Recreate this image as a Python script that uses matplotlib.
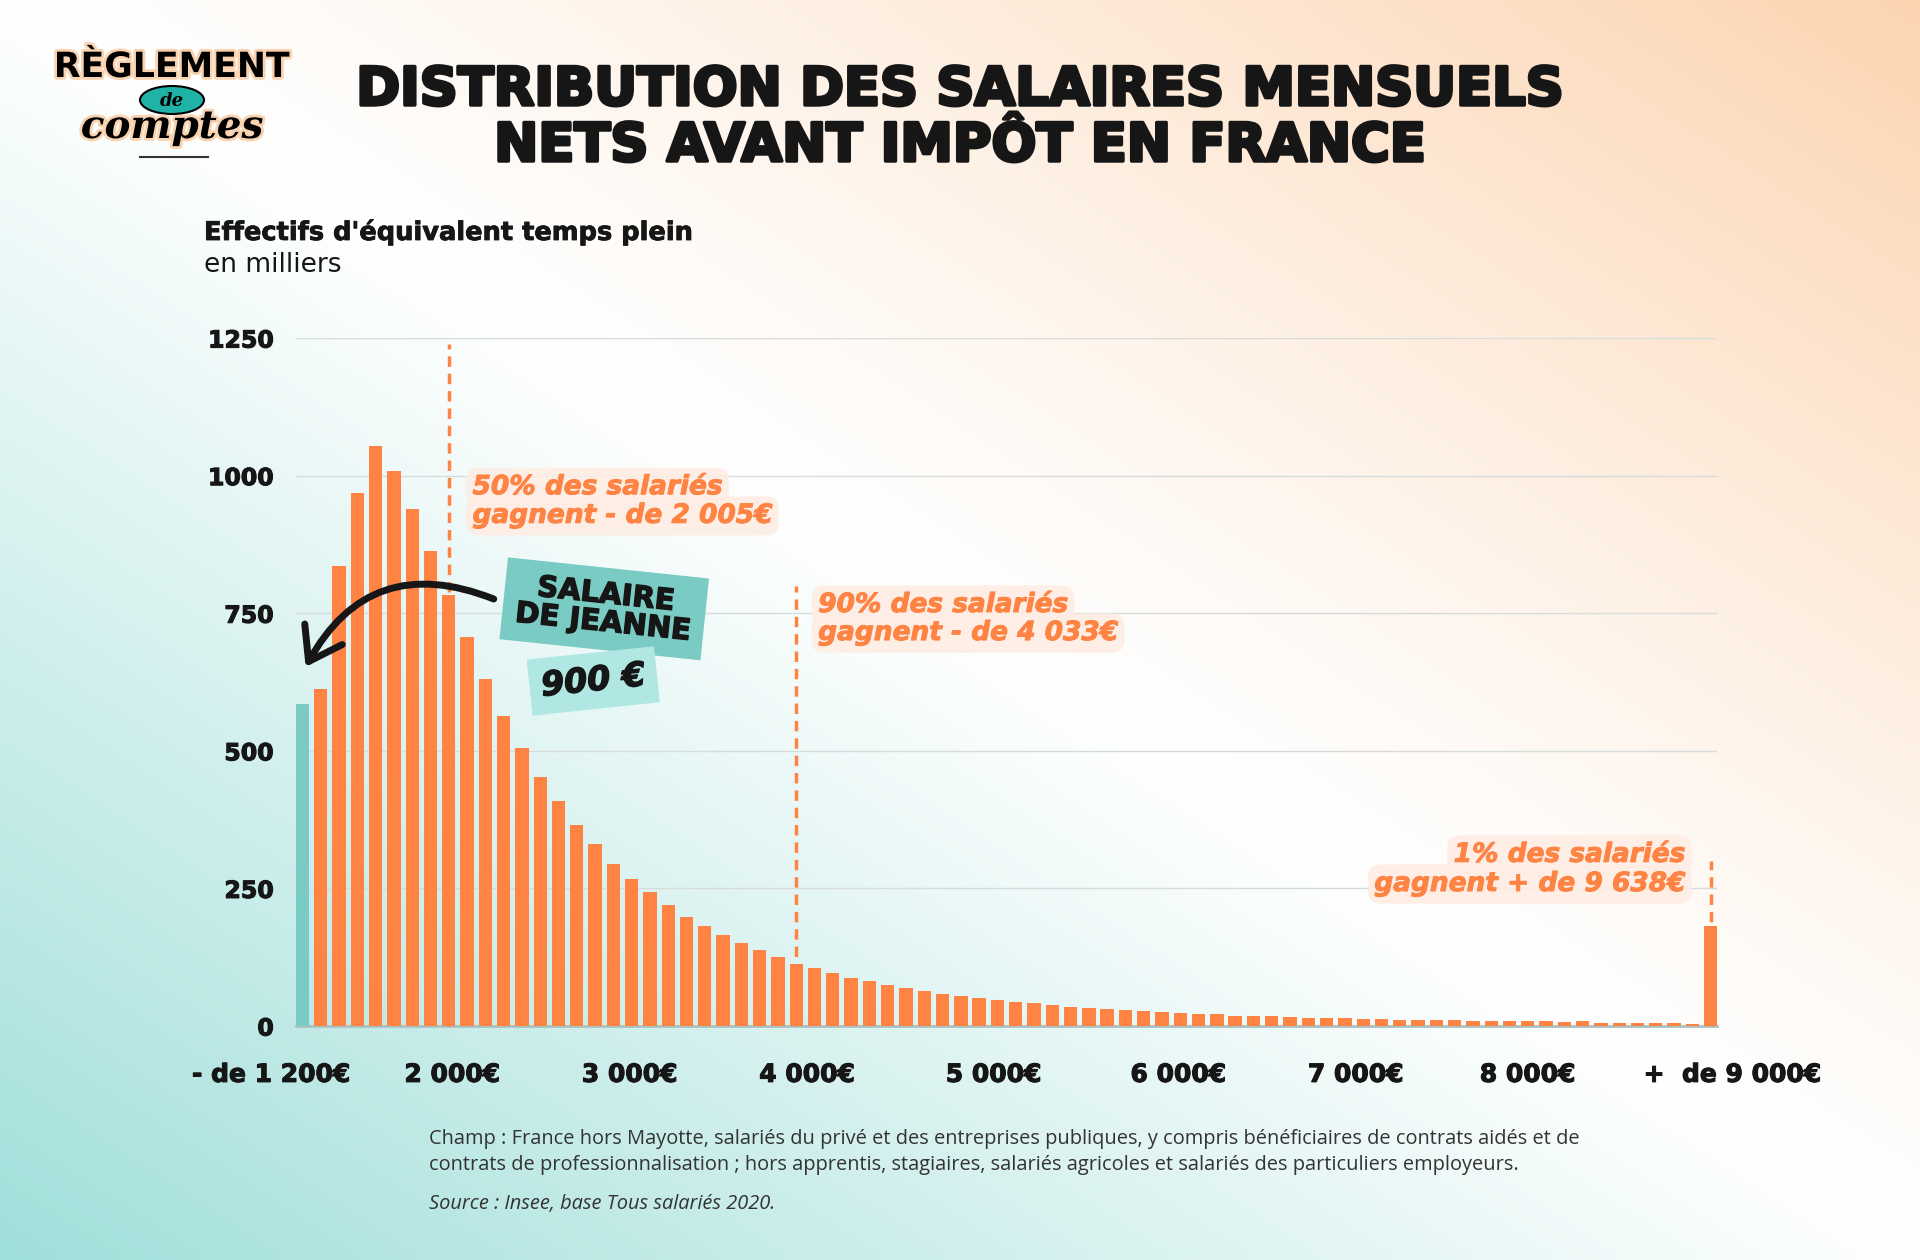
import numpy as np
import matplotlib.pyplot as plt
from matplotlib.patches import FancyArrowPatch, Ellipse
import matplotlib.patheffects as pe

# effectifs (milliers) par tranche de 100 EUR, 1ere barre = moins de 1200, derniere = plus de 9000
counts = [585, 613, 836, 969, 1053, 1008, 940, 863, 783, 706, 630, 563, 505, 453,
          408, 366, 330, 294, 267, 243, 220, 198, 181, 165, 150, 138, 125, 113,
          105, 96, 88, 82, 75, 69, 64, 59, 55, 51, 47, 44, 41, 38, 35, 33, 31, 29,
          27, 25, 24, 22, 21, 19, 18, 18, 16,
          15, 15, 14.5, 13, 12.5, 11.5, 11.5, 11, 11, 10, 10, 9, 9, 9, 8, 9, 6, 6,
          5.5, 5.5, 5.5, 4, 182]
jeanne_bar = 0

x_labels = ["- de 1 200€", "2 000€", "3 000€", "4 000€", "5 000€", "6 000€",
            "7 000€", "8 000€", "+  de 9 000€"]
x_label_pos = [-1.7, 8.2, 17.9, 27.6, 37.8, 47.9, 57.6, 67.0, 78.2]

y_ticks = [0, 250, 500, 750, 1000, 1250]

# percentiles: bar index, top of dashed line, label
pct_bars = [8, 27, 77]
pct_tops = [1240, 800, 300]
pct_text = [["50% des salariés", "gagnent - de 2 005€"],
            ["90% des salariés", "gagnent - de 4 033€"],
            ["1% des salariés", "gagnent + de 9 638€"]]

ORANGE = "#FF8444"
TEAL = "#79CBC3"
DARK = "#161616"


def heavy(color, w=1.2):
    return [pe.withStroke(linewidth=w, foreground=color)]


fig = plt.figure(figsize=(19.2, 12.6), dpi=100)

# background gradient
H, W = 252, 384
yy, xx = np.mgrid[0:H, 0:W]
t = xx / W - yy / H
white = np.array([1.0, 1.0, 1.0])
peach = np.array([252, 212, 176]) / 255
teal_bg = np.array([160, 223, 218]) / 255
pos = np.clip(t, 0, 1)[..., None] ** 1.2
neg = np.clip(-t, 0, 1)[..., None] ** 1.0
img = white * (1 - pos - neg) + peach * pos + teal_bg * neg
bg = fig.add_axes([0, 0, 1, 1])
bg.imshow(img, aspect="auto", extent=[0, 1, 0, 1], interpolation="bicubic")
bg.axis("off")

ax = fig.add_axes([0.1542, 0.1857, 0.7401, 0.546])
ax.patch.set_alpha(0)
idx = np.arange(len(counts))
colors = [TEAL if i == jeanne_bar else ORANGE for i in idx]
ax.bar(idx, counts, width=0.73, color=colors, zorder=3)
ax.set_xlim(-0.35, 77.35)
ax.set_ylim(0, 1250)
ax.set_yticks(y_ticks)
ax.set_yticklabels([str(v) for v in y_ticks], fontsize=17, fontweight="bold",
                   color=DARK, path_effects=heavy(DARK, 0.8))
ax.tick_params(axis="y", length=0, pad=16)
ax.set_xticks([])
for s in ["top", "right", "left"]:
    ax.spines[s].set_visible(False)
ax.spines["bottom"].set_color("#A9C2C2")
ax.spines["bottom"].set_linewidth(2)
ax.grid(axis="y", color="#D6DCDC", lw=1, zorder=0)

for lab, p in zip(x_labels, x_label_pos):
    ax.text(p, -0.071, lab, transform=ax.get_xaxis_transform(), ha="center",
            va="center", fontsize=18, fontweight="bold", color=DARK, clip_on=False,
            path_effects=heavy(DARK, 0.8))

# percentile lines + labels
box = dict(boxstyle="round,pad=0.25,rounding_size=0.5", fc="#FEEDE4", ec="none", alpha=0.9)
for b, top in zip(pct_bars, pct_tops):
    ax.plot([b, b], [0, top], ls=(0, (3, 2)), color=ORANGE, lw=2.5, zorder=4,
            clip_on=False)
lab_xy = [(9.3, 979, 927, "left"), (28.2, 765, 714, "left"), (75.6, 311, 258, "right")]
for (lx, y1, y2, ha), lines in zip(lab_xy, pct_text):
    for yy_, txt in zip([y1, y2], lines):
        ax.text(lx, yy_, txt, ha=ha, va="center", fontsize=19, fontweight="bold",
                style="italic", color=ORANGE, bbox=box, zorder=5,
                path_effects=heavy(ORANGE, 0.7))

# Jeanne
ax.text(16.5, 758, "SALAIRE\nDE JEANNE", ha="center", va="center", rotation=-6,
        fontsize=21, fontweight="bold", color=DARK, linespacing=1.0, zorder=6,
        path_effects=heavy(DARK, 1.0),
        bbox=dict(boxstyle="square,pad=0.45", fc=TEAL, ec="none"))
ax.text(15.9, 627, "900 €", ha="center", va="center", rotation=6,
        fontsize=24, fontweight="bold", style="italic", color=DARK, zorder=6,
        path_effects=heavy(DARK, 1.0),
        bbox=dict(boxstyle="square,pad=0.35", fc="#B1E7E3", ec="none"))
arr = FancyArrowPatch((10.6, 774), (0.1, 648), connectionstyle="arc3,rad=0.45",
                      arrowstyle="->,head_length=0.8,head_width=0.55",
                      mutation_scale=28, lw=5, color=DARK, zorder=7, clip_on=False)
ax.add_patch(arr)

# titles
fig.text(0.5, 1 - 90 / 1260, "DISTRIBUTION DES SALAIRES MENSUELS", ha="center",
         va="center", fontsize=38, fontweight="heavy", color=DARK,
         path_effects=heavy(DARK, 2.5))
fig.text(0.5, 1 - 146 / 1260, "NETS AVANT IMPÔT EN FRANCE", ha="center",
         va="center", fontsize=38, fontweight="heavy", color=DARK,
         path_effects=heavy(DARK, 2.5))
fig.text(204 / 1920, 1 - 232 / 1260, "Effectifs d'équivalent temps plein",
         ha="left", va="center", fontsize=18.5, fontweight="bold", color=DARK,
         path_effects=heavy(DARK, 0.6))
fig.text(204 / 1920, 1 - 265 / 1260, "en milliers", ha="left", va="center",
         fontsize=19, color=DARK)

# logo
glow = [pe.withStroke(linewidth=4, foreground="#F9D3B0")]
fig.text(172 / 1920, 1 - 67 / 1260, "RÈGLEMENT", ha="center", va="center",
         fontsize=25, fontweight="heavy", color="black", path_effects=glow)
fig.add_artist(Ellipse((172 / 1920, 1 - 100 / 1260), 64 / 1920, 28 / 1260,
                       transform=fig.transFigure, fc="#1FB3A8", ec="black", lw=1.5))
fig.text(172 / 1920, 1 - 101 / 1260, "de", ha="center", va="center", fontsize=13,
         family="DejaVu Serif", style="italic", fontweight="bold", color="black")
fig.text(172 / 1920, 1 - 127 / 1260, "comptes", ha="center", va="center",
         fontsize=28, family="DejaVu Serif", style="italic", fontweight="bold",
         color="black", path_effects=glow)
fig.add_artist(plt.Line2D([140 / 1920, 208 / 1920], [1 - 157 / 1260, 1 - 157 / 1260],
                          transform=fig.transFigure, color="#333333", lw=1.5))

# notes
fig.text(429 / 1920, 1 - 1139 / 1260,
         "Champ : France hors Mayotte, salariés du privé et des entreprises publiques, "
         "y compris bénéficiaires de contrats aidés et de", ha="left", va="center",
         fontsize=14.4, family="Open Sans", color="#333333")
fig.text(429 / 1920, 1 - 1165 / 1260,
         "contrats de professionnalisation ; hors apprentis, stagiaires, salariés "
         "agricoles et salariés des particuliers employeurs.", ha="left", va="center",
         fontsize=14.4, family="Open Sans", color="#333333")
fig.text(429 / 1920, 1 - 1204 / 1260, "Source : Insee, base Tous salariés 2020.",
         ha="left", va="center", fontsize=14.4, family="Open Sans", style="italic",
         color="#333333")

fig.savefig("out.png", dpi=100)
